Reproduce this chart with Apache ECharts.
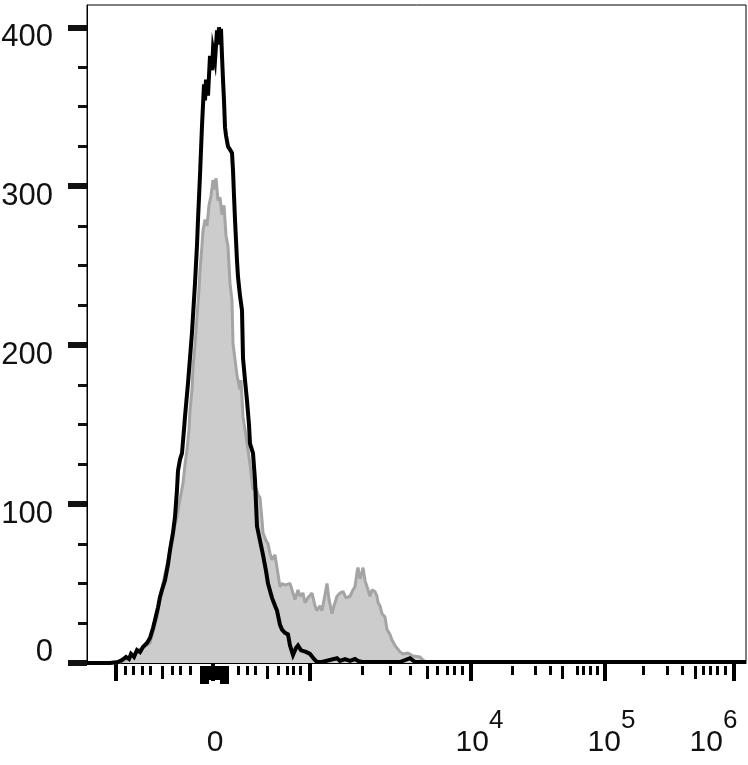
<!DOCTYPE html>
<html>
<head>
<meta charset="utf-8">
<script src="https://cdn.jsdelivr.net/npm/echarts@6/dist/echarts.min.js"></script>
<style>
html,body{margin:0;padding:0;background:#fff;}
#chart{width:748px;height:765px;}
</style>
</head>
<body>
<div id="chart"></div>
<script>
// x: display channel (biexponential scale), y: cell count
const channelMax = 659;
const countMax = 414;

// Black outlined histogram (sample)
const blackCh = [0,23,31,35,39,42,44,47,50,53,56,60,63,66,68,71,73,75,78,81,83,86,88,90,91,93,95,97,98,101,103,105,108,110,111,113,115,116,117,118,119,121,123,125,126,128,130,131,132,133,134,135,136,137,138,139,141,143,145,146,147,148,150,151,153,155,156,158,160,162,163,166,168,170,173,176,179,181,183,185,188,190,193,195,198,201,203,206,209,211,214,216,219,223,227,230,235,250,253,258,263,268,271,275,313,323,328,659];
const blackCount = [0,0,0.6,1.9,3.8,2.5,5.7,3.8,8.2,6.9,10.1,12.6,15.7,22,27,35,41.5,46,52,62,71,82,92,109,121,128,132,147,155,176,192,208,239,263,279,307,338,351,364,354,367,357,382,373,386,379,398,389,400,392,399,382,367,354,337,332,325,323,321,310,294,279,253,243,231,222,192,178,165,150,138,132,115,86,77,68,58,50,49,41,36,33,24,21,19,18,11,5,9.4,11,8,9,7,5.7,2.5,0.6,0.6,3,1.3,2.5,1.3,2.5,1.3,0.6,0.6,3,0.6,0.6];

// Grey filled histogram (control)
const greyCh = [0,28,33,38,43,46,50,55,59,63,66,70,73,76,80,83,87,90,93,96,98,100,102,103,105,106,108,110,112,113,115,116,118,120,122,124,126,128,129,131,133,135,137,139,141,143,145,146,148,150,153,154,156,159,161,163,166,168,171,173,175,176,179,181,183,185,188,190,193,195,198,200,203,205,208,211,213,216,218,221,225,228,230,233,235,238,240,242,245,247,250,253,256,259,263,266,268,270,271,273,275,276,278,280,283,285,288,290,291,293,295,298,300,303,305,308,310,313,316,318,321,323,326,328,333,336,339,343,659];
const greyCount = [0,0,0.6,1.9,3.8,5,7,9.4,10.7,12.6,19.5,29,40,50,62,71,84,92,103,113,125,134,147,159,172,186,200,218,235,247,263,272,279,275,288,294,304,298,305,291,293,282,288,269,262,239,228,201,191,181,172,178,155,143,134,125,109,112,106,104,90,82,77,75,69,65,68,60,48,50,49,48,50,46,40,46,42,44,38,41,44,36,33,36,33,43,50,40,31,36,42,44,45,41,42,46,48,57,60,53,57,60,52,48,42,46,45,42,38,36,31,29,21,18,14.5,11,10,7,5.7,5,6.3,7,4.4,3.8,3.8,1.9,0.6,0];

// Axis ticks (channel positions) and labels
const majorTicks = [29,126,223,384,518,647];
const zeroClusterLong = [114,116,118,120,134,136,138,140];
const zeroClusterMid = [123,125,127,129,131];
const mediumTicks = [75,180,340,475,608];
const minorTicks = [38,46,55,63,85,93,103,151,160,168,191,200,206,213,275,303,323,350,360,367,375,425,448,463,490,496,503,510,556,580,595,616,623,630,638];
const xLabelValues = [128,385,517,647];
const xLabelExponents = [null,4,5,6];
const yLabelValues = [0,100,200,300,400];
const yMinorTicks = [25,50,75,125,150,175,225,250,275,325,350,375];

const FONT = '"Liberation Sans", Arial, Helvetica, sans-serif';

function pairs(xs, ys){ return xs.map((x,i)=>[x, ys[i]]); }

const chart = echarts.init(document.getElementById('chart'), null, {renderer:'canvas'});

function tickAxis(values, len, width){
  return {
    type:'value', min:0, max:channelMax, position:'bottom', offset:3,
    axisLine:{show:false}, splitLine:{show:false},
    axisLabel:{show:false},
    axisTick:{show:true, customValues:values, length:len, lineStyle:{color:'#000', width:width}}
  };
}

const option = {
  animation:false,
  backgroundColor:'#fff',
  grid:{left:87, right:2, top:5, bottom:102, outerBoundsMode:'none', containLabel:false,
        show:true, borderColor:'#000', borderWidth:1, backgroundColor:'transparent'},
  xAxis:[
    {
      type:'value', min:0, max:channelMax, position:'bottom',
      axisLine:{show:true, lineStyle:{color:'#000', width:1}},
      axisTick:{show:false},
      splitLine:{show:false},
      axisLabel:{
        show:true, customValues:xLabelValues, margin:45, color:'#111', fontFamily:FONT,
        formatter:function(v){
          const i = xLabelValues.indexOf(v);
          const e = xLabelExponents[i];
          if (e === null || e === undefined) return '{n|0}';
          if (e === 6) return '{n|10}{s|' + e + '}{tail| }';
          return '{sp| }{n|10}{s|' + e + '}';
        },
        rich:{
          n:{fontSize:30, lineHeight:70, fontFamily:FONT, color:'#111'},
          s:{fontSize:26, lineHeight:26, verticalAlign:'top', fontFamily:FONT, color:'#111'},
          sp:{width:15, fontSize:10, lineHeight:10},
          tail:{width:41, fontSize:10, lineHeight:10}
        }
      }
    },
    tickAxis(majorTicks, 18, 4),
    tickAxis(zeroClusterLong, 18, 3),
    tickAxis(zeroClusterMid, 14, 3),
    tickAxis(mediumTicks, 13, 3),
    tickAxis(minorTicks, 9, 3)
  ],
  yAxis:[
    {
      type:'value', min:0, max:countMax,
      axisLine:{show:true, lineStyle:{color:'#000', width:1}},
      splitLine:{show:false},
      axisTick:{show:true, customValues:yLabelValues, length:19, lineStyle:{color:'#111', width:6}},
      axisLabel:{
        show:true, customValues:yLabelValues, margin:34, color:'#111', fontFamily:FONT,
        formatter:function(v){ return v === 0 ? '{z|0}' : '{n|' + v + '}'; },
        rich:{
          n:{fontSize:31, fontFamily:FONT, color:'#111', padding:[21,0,0,0]},
          z:{fontSize:31, fontFamily:FONT, color:'#111', padding:[0,0,22,0]}
        }
      }
    },
    {
      type:'value', min:0, max:countMax, position:'left',
      axisLine:{show:false}, splitLine:{show:false}, axisLabel:{show:false},
      axisTick:{show:true, customValues:yMinorTicks, length:9, lineStyle:{color:'#111', width:3}}
    }
  ],
  series:[
    {
      name:'control', type:'line', xAxisIndex:0, yAxisIndex:0,
      data:pairs(greyCh, greyCount),
      showSymbol:false, symbol:'none', smooth:false,
      lineStyle:{color:'#a4a4a4', width:3},
      areaStyle:{color:'#cccccc', opacity:1},
      z:2
    },
    {
      name:'sample', type:'line', xAxisIndex:0, yAxisIndex:0,
      data:pairs(blackCh, blackCount),
      showSymbol:false, symbol:'none', smooth:false,
      lineStyle:{color:'#000', width:4, join:'miter'},
      z:3
    }
  ]
};
chart.setOption(option);
</script>
</body>
</html>
